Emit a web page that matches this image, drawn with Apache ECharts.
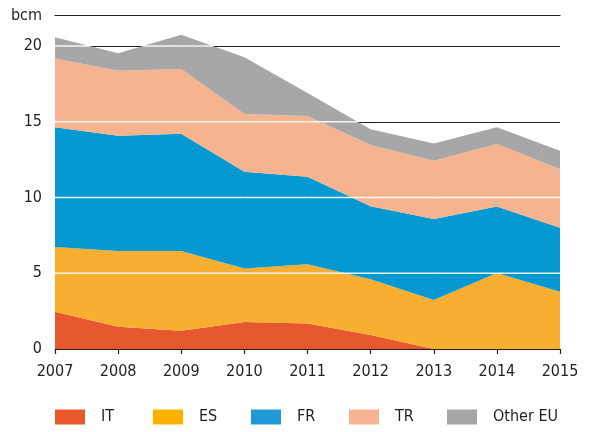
<!DOCTYPE html>
<html>
<head>
<meta charset="utf-8">
<script src="https://cdn.jsdelivr.net/npm/echarts@6/dist/echarts.min.js"></script>
<style>
  html, body { margin: 0; padding: 0; background: #fff; }
  #chart { width: 591px; height: 432px; }
</style>
</head>
<body>
<div id="chart"></div>
<script>
// Gas volumes by destination, bcm
const years = ['2007', '2008', '2009', '2010', '2011', '2012', '2013', '2014', '2015'];
const valuesIT = [2.46, 1.47, 1.21, 1.78, 1.69, 0.92, 0, 0, 0];
const valuesES = [4.27, 5.00, 5.26, 3.54, 3.90, 3.68, 3.23, 5.02, 3.78];
const valuesFR = [7.90, 7.61, 7.74, 6.38, 5.78, 4.82, 5.35, 4.38, 4.22];
const valuesTR = [4.54, 4.29, 4.27, 3.81, 4.01, 4.05, 3.85, 4.13, 3.88];
const valuesOther = [1.40, 1.15, 2.27, 3.74, 1.52, 1.03, 1.14, 1.10, 1.21];
const seriesNames = ['IT', 'ES', 'FR', 'TR', 'Other EU'];
const seriesColors = ['#E8582F', '#F7AE31', '#0699D1', '#F5B38F', '#A7A7A7'];
const legendColors = ['#E9582A', '#FBB200', '#1F9AD6', '#F6B392', '#A6A6A6'];
const yTicks = [5, 10, 15, 20];

const allValues = [valuesIT, valuesES, valuesFR, valuesTR, valuesOther];
const totals = years.map((_, i) => allValues.reduce((s, arr) => s + arr[i], 0));

const FONT = '"DejaVu Sans", sans-serif';
const STRETCH = 'normal condensed';
const FS = 16;
const INK = '#231F20';

const areaSeries = seriesNames.map((name, k) => ({
  name,
  type: 'line',
  stack: 'total',
  symbol: 'none',
  lineStyle: { width: 0 },
  itemStyle: { color: seriesColors[k] },
  areaStyle: { color: seriesColors[k], opacity: 1 },
  data: allValues[k],
  z: 2
}));

// White gridline segments drawn over the filled stack only
const gridOverlay = {
  type: 'custom',
  silent: true,
  clip: false,
  z: 3,
  encode: { x: 0, y: [1, 2] },
  data: years.slice(0, -1).map((y, i) => [i, totals[i], totals[i + 1]]),
  renderItem: function (params, api) {
    const i = api.value(0);
    const a = api.value(1), b = api.value(2);
    const children = [];
    yTicks.forEach(v => {
      let t0, t1;
      if (a >= v && b >= v) { t0 = 0; t1 = 1; }
      else if (a >= v && b < v) { t0 = 0; t1 = (a - v) / (a - b); }
      else if (a < v && b >= v) { t0 = (v - a) / (b - a); t1 = 1; }
      else return;
      const pa = api.coord([i, v]);
      const pb = api.coord([i + 1, v]);
      const xs = pa[0] + t0 * (pb[0] - pa[0]);
      const xe = pa[0] + t1 * (pb[0] - pa[0]);
      children.push({
        type: 'line',
        shape: { x1: xs, y1: pa[1], x2: xe, y2: pa[1] },
        style: { stroke: 'rgba(255,255,255,0.9)', lineWidth: 1.4 }
      });
    });
    return { type: 'group', children };
  }
};

// One legend block per series, evenly spaced
const legends = seriesNames.map((name, k) => ({
  data: [{ name, itemStyle: { color: legendColors[k] } }],
  left: 55 + 98 * k,
  top: 409,
  padding: 0,
  itemWidth: 30,
  itemHeight: 15,
  icon: 'rect',
  selectedMode: false,
  textStyle: {
    fontFamily: FONT, fontWeight: STRETCH, fontSize: FS, color: INK,
    padding: [0, 0, 0, 11]
  }
}));

const chart = echarts.init(document.getElementById('chart'), null, { renderer: 'canvas' });
chart.setOption({
  animation: false,
  backgroundColor: '#fff',
  grid: { left: 55, right: 31, top: 15.7, bottom: 83, containLabel: false },
  legend: legends,
  xAxis: [{
    type: 'category',
    data: years,
    boundaryGap: false,
    axisLine: { show: true, lineStyle: { color: INK, width: 1.2 } },
    axisTick: { show: true, length: 5, alignWithLabel: true, lineStyle: { color: INK, width: 1.2 } },
    axisLabel: { fontFamily: FONT, fontWeight: STRETCH, fontSize: FS, color: INK, margin: 15, interval: 0 },
    splitLine: { show: false }
  }, {
    type: 'category',
    data: years,
    boundaryGap: false,
    position: 'top',
    axisLine: { show: true, lineStyle: { color: INK, width: 1.2 } },
    axisTick: { show: false },
    axisLabel: { show: false },
    splitLine: { show: false }
  }],
  yAxis: {
    type: 'value',
    min: 0, max: 22, interval: 5,
    name: 'bcm',
    nameLocation: 'end',
    nameGap: 0,
    nameTextStyle: {
      fontFamily: FONT, fontWeight: STRETCH, fontSize: FS, color: INK,
      align: 'right', verticalAlign: 'middle', padding: [0, 13, 0, 0]
    },
    axisLine: { show: false },
    axisTick: { show: false },
    axisLabel: { fontFamily: FONT, fontWeight: STRETCH, fontSize: FS, color: INK, margin: 13, showMaxLabel: false },
    splitLine: { show: true, lineStyle: { color: INK, width: 1.2 } }
  },
  series: areaSeries.concat([gridOverlay])
});
</script>
</body>
</html>
